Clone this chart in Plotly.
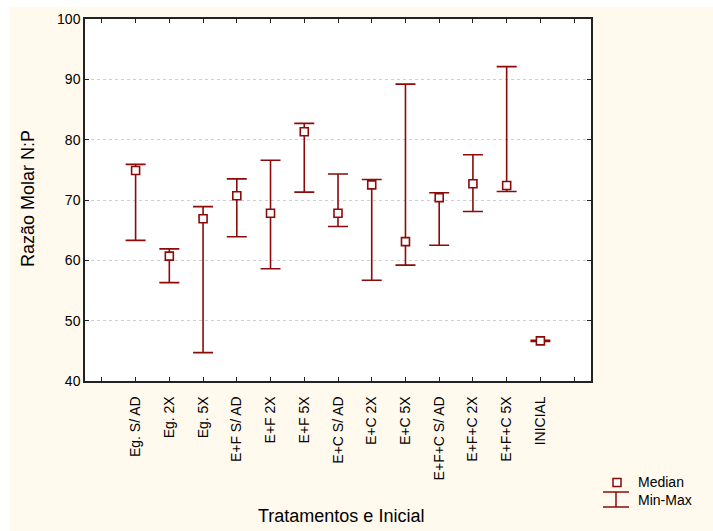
import plotly.graph_objects as go

# Razão molar N:P por tratamento: mediana e amplitude (mínimo-máximo)
categories = [
    "Eg. S/ AD", "Eg. 2X", "Eg. 5X",
    "E+F S/ AD", "E+F 2X", "E+F 5X",
    "E+C S/ AD", "E+C 2X", "E+C 5X",
    "E+F+C S/ AD", "E+F+C 2X", "E+F+C 5X",
    "INICIAL",
]
median = [74.9, 60.7, 66.9, 70.7, 67.8, 81.3, 67.8, 72.5, 63.1, 70.4, 72.7, 72.4, 46.65]
minimum = [63.3, 56.3, 44.7, 63.9, 58.6, 71.3, 65.6, 56.7, 59.2, 62.5, 68.1, 71.4, 46.55]
maximum = [75.9, 61.9, 68.9, 73.5, 76.6, 82.7, 74.3, 73.4, 89.2, 71.2, 77.5, 92.1, 46.75]

y_ticks = [40, 50, 60, 70, 80, 90, 100]

RED = "#8b0a0a"
CREAM = "#fff9ee"
FONT = "Arial, Liberation Sans, sans-serif"

W, H = 713, 531
ML, MR, MT, MB = 85, 122, 19, 150
PW, PH = W - ML - MR, H - MT - MB


def px(x):
    return (x - ML) / PW


def py(y):
    return (H - MB - y) / PH


xpos = list(range(len(categories)))
err_plus = [mx - md for mx, md in zip(maximum, median)]
err_minus = [md - mn for md, mn in zip(median, minimum)]

fig = go.Figure()
fig.add_trace(go.Scatter(
    x=xpos, y=median, mode="markers",
    marker=dict(symbol="square", size=8, color="white",
                line=dict(color=RED, width=1.6)),
    error_y=dict(type="data", symmetric=False, array=err_plus,
                 arrayminus=err_minus, color=RED, thickness=1.6, width=10),
    showlegend=False, hoverinfo="skip",
))

shapes = [
    # cream page panel and white plotting area
    dict(type="rect", xref="paper", yref="paper", layer="below",
         x0=px(10), x1=px(714), y0=py(532), y1=py(7),
         fillcolor=CREAM, line=dict(width=0)),
    dict(type="rect", xref="paper", yref="paper", layer="below",
         x0=0, x1=1, y0=0, y1=1, fillcolor="white", line=dict(width=0)),
    # legend: median marker
    dict(type="rect", xref="paper", yref="paper",
         x0=px(613), x1=px(621), y0=py(486.5), y1=py(478.5),
         fillcolor="white", line=dict(color=RED, width=1.5)),
    # legend: min-max whisker
    dict(type="line", xref="paper", yref="paper",
         x0=px(603), x1=px(629), y0=py(492), y1=py(492),
         line=dict(color=RED, width=1.5)),
    dict(type="line", xref="paper", yref="paper",
         x0=px(603), x1=px(629), y0=py(507), y1=py(507),
         line=dict(color=RED, width=1.5)),
    dict(type="line", xref="paper", yref="paper",
         x0=px(616), x1=px(616), y0=py(492), y1=py(507),
         line=dict(color=RED, width=1.5)),
]

annotations = [
    dict(text="Median", xref="paper", yref="paper", x=px(636), y=py(482),
         xanchor="left", yanchor="middle", showarrow=False,
         font=dict(family=FONT, size=14, color="black")),
    dict(text="Min-Max", xref="paper", yref="paper", x=px(636), y=py(500),
         xanchor="left", yanchor="middle", showarrow=False,
         font=dict(family=FONT, size=14, color="black")),
    dict(text="Tratamentos e Inicial", xref="paper", yref="paper",
         x=px(341), y=py(516), xanchor="center", yanchor="middle",
         showarrow=False, font=dict(family=FONT, size=18, color="black")),
    dict(text="Razão Molar N:P", xref="paper", yref="paper",
         x=px(28), y=py(199), xanchor="center", yanchor="middle",
         textangle=-90, showarrow=False,
         font=dict(family=FONT, size=18, color="black")),
]

fig.update_layout(
    width=W, height=H,
    margin=dict(l=ML, r=MR, t=MT, b=MB),
    paper_bgcolor="white", plot_bgcolor="rgba(0,0,0,0)",
    font=dict(family=FONT, size=14, color="black"),
    shapes=shapes, annotations=annotations, showlegend=False,
    xaxis=dict(
        range=[-1.5, len(categories) + 0.5],
        tickmode="array",
        tickvals=list(range(-1, len(categories) + 1)),
        ticktext=[""] + categories + [""],
        tickangle=-90, ticks="inside", ticklen=4, tickwidth=1.2,
        tickcolor="#222", showline=True, linecolor="#222", linewidth=1.5,
        mirror="allticks", showgrid=False, zeroline=False,
        tickfont=dict(family=FONT, size=14, color="black"),
        ticklabelstandoff=8,
    ),
    yaxis=dict(
        range=[40, 100], tickmode="array", tickvals=y_ticks,
        ticks="inside", ticklen=4, tickwidth=1.2, tickcolor="#222",
        showline=True, linecolor="#222", linewidth=1.5, mirror="allticks",
        showgrid=True, gridcolor="#cfcfcf", gridwidth=1, griddash="dot",
        zeroline=False,
        tickfont=dict(family=FONT, size=14, color="black"),
    ),
)

fig.write_html("out.html")
